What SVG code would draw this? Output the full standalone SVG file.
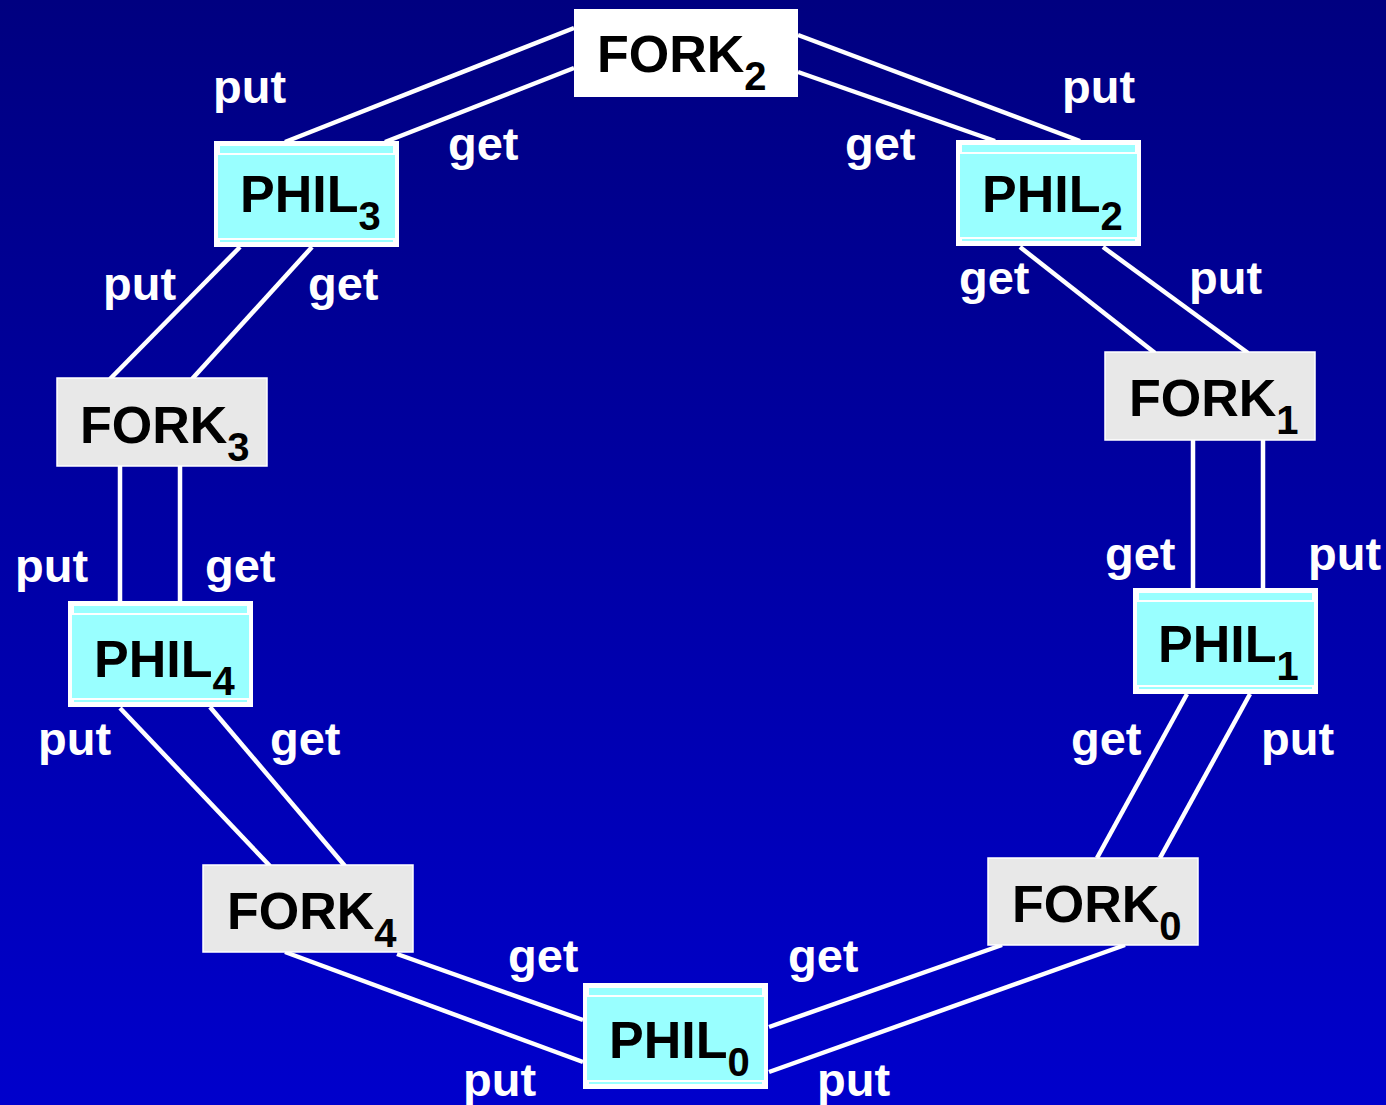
<svg xmlns="http://www.w3.org/2000/svg" width="1386" height="1105" viewBox="0 0 1386 1105">
<defs>
<linearGradient id="bg" x1="0" y1="0" x2="0" y2="1">
<stop offset="0" stop-color="#000080"/>
<stop offset="1" stop-color="#0000CC"/>
</linearGradient>
<style>
.lbl{font-family:"Liberation Sans",Arial,sans-serif;font-weight:bold;font-size:47px;fill:#ffffff}
.nt{font-family:"Liberation Sans",Arial,sans-serif;font-weight:bold;font-size:52px;fill:#000000}
.sub{font-size:40px}
.fork{fill:#E8E8E8;stroke:#ffffff;stroke-width:1.5}
.fork2{fill:#ffffff}
.pout{fill:#ffffff}
.pin{fill:#99FFFF}
.conn line{stroke:#ffffff;stroke-width:4.5}
</style>
</defs>
<rect x="0" y="0" width="1386" height="1105" fill="url(#bg)"/>
<g id="connectors" class="conn">
<line x1="574" y1="28" x2="285" y2="142"/>
<line x1="574" y1="68" x2="385" y2="142"/>
<line x1="798" y1="35" x2="1080" y2="141"/>
<line x1="798" y1="72" x2="995" y2="141"/>
<line x1="1020" y1="247" x2="1155" y2="353"/>
<line x1="1103" y1="247" x2="1248" y2="353"/>
<line x1="1193" y1="440" x2="1193" y2="588"/>
<line x1="1263" y1="440" x2="1263" y2="588"/>
<line x1="1187" y1="694" x2="1097" y2="858"/>
<line x1="1250" y1="694" x2="1160" y2="858"/>
<line x1="1002" y1="945" x2="769" y2="1027"/>
<line x1="1125" y1="945" x2="769" y2="1072"/>
<line x1="397" y1="954" x2="583" y2="1020"/>
<line x1="285" y1="952" x2="583" y2="1062"/>
<line x1="120" y1="708" x2="270" y2="866"/>
<line x1="210" y1="707" x2="345" y2="866"/>
<line x1="120" y1="601" x2="120" y2="466"/>
<line x1="180" y1="601" x2="180" y2="466"/>
<line x1="110" y1="379" x2="240" y2="247"/>
<line x1="192" y1="379" x2="312" y2="247"/>
</g>
<g id="labels">
<text class="lbl" x="213" y="103">put</text>
<text class="lbl" x="448" y="160">get</text>
<text class="lbl" x="1062" y="103">put</text>
<text class="lbl" x="845" y="160">get</text>
<text class="lbl" x="103" y="300">put</text>
<text class="lbl" x="308" y="300">get</text>
<text class="lbl" x="959" y="294">get</text>
<text class="lbl" x="1189" y="294">put</text>
<text class="lbl" x="15" y="582">put</text>
<text class="lbl" x="205" y="582">get</text>
<text class="lbl" x="1105" y="570">get</text>
<text class="lbl" x="1308" y="570">put</text>
<text class="lbl" x="38" y="755">put</text>
<text class="lbl" x="270" y="755">get</text>
<text class="lbl" x="1071" y="755">get</text>
<text class="lbl" x="1261" y="755">put</text>
<text class="lbl" x="508" y="972">get</text>
<text class="lbl" x="788" y="972">get</text>
<text class="lbl" x="463" y="1096">put</text>
<text class="lbl" x="817" y="1096">put</text>
</g>
<g id="fork2">
<rect class="fork2" x="574" y="9" width="224" height="88"/>
<text class="nt" x="597" y="72">FORK<tspan class="sub" dy="18">2</tspan></text>
</g>
<g id="fork1">
<rect class="fork" x="1105" y="352" width="210" height="88"/>
<text class="nt" x="1129" y="416">FORK<tspan class="sub" dy="18">1</tspan></text>
</g>
<g id="fork3">
<rect class="fork" x="57" y="378" width="210" height="88"/>
<text class="nt" x="80" y="443">FORK<tspan class="sub" dy="18">3</tspan></text>
</g>
<g id="fork4">
<rect class="fork" x="203" y="865" width="210" height="87"/>
<text class="nt" x="227" y="929">FORK<tspan class="sub" dy="18">4</tspan></text>
</g>
<g id="fork0">
<rect class="fork" x="988" y="858" width="210" height="87"/>
<text class="nt" x="1012" y="922">FORK<tspan class="sub" dy="18">0</tspan></text>
</g>
<g id="phil3">
<rect class="pout" x="214" y="141" width="185" height="106"/>
<rect class="pin" x="220" y="146" width="173" height="7"/>
<rect class="pin" x="218" y="155" width="177" height="83"/>
<rect class="pin" x="220" y="240" width="173" height="2"/>
<text class="nt" x="240" y="212">PHIL<tspan class="sub" dy="18">3</tspan></text>
</g>
<g id="phil2">
<rect class="pout" x="956" y="140" width="185" height="106"/>
<rect class="pin" x="962" y="145" width="173" height="7"/>
<rect class="pin" x="960" y="154" width="177" height="83"/>
<rect class="pin" x="962" y="239" width="173" height="2"/>
<text class="nt" x="982" y="212">PHIL<tspan class="sub" dy="18">2</tspan></text>
</g>
<g id="phil1">
<rect class="pout" x="1133" y="588" width="185" height="106"/>
<rect class="pin" x="1139" y="593" width="173" height="7"/>
<rect class="pin" x="1137" y="602" width="177" height="83"/>
<rect class="pin" x="1139" y="687" width="173" height="2"/>
<text class="nt" x="1158" y="662">PHIL<tspan class="sub" dy="18">1</tspan></text>
</g>
<g id="phil4">
<rect class="pout" x="68" y="601" width="185" height="106"/>
<rect class="pin" x="74" y="606" width="173" height="7"/>
<rect class="pin" x="72" y="615" width="177" height="83"/>
<rect class="pin" x="74" y="700" width="173" height="2"/>
<text class="nt" x="94" y="677">PHIL<tspan class="sub" dy="18">4</tspan></text>
</g>
<g id="phil0">
<rect class="pout" x="583" y="983" width="185" height="106"/>
<rect class="pin" x="589" y="988" width="173" height="7"/>
<rect class="pin" x="587" y="997" width="177" height="83"/>
<rect class="pin" x="589" y="1082" width="173" height="2"/>
<text class="nt" x="609" y="1058">PHIL<tspan class="sub" dy="18">0</tspan></text>
</g>
</svg>
